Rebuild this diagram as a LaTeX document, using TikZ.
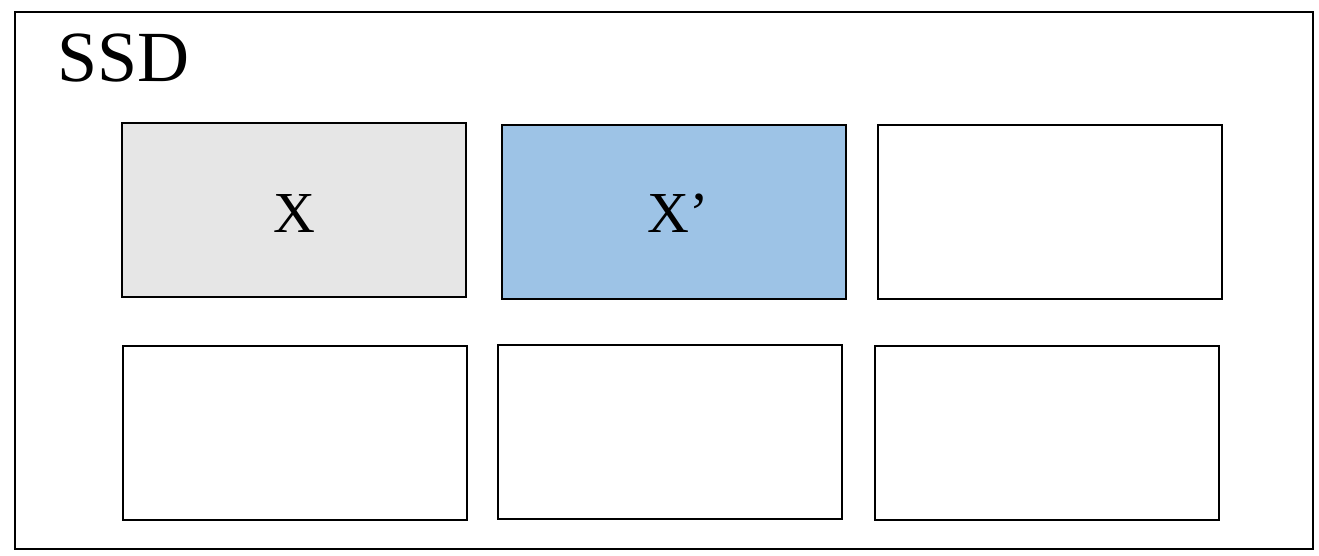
\documentclass[tikz,border=0pt]{standalone}
\usepackage{fontspec}
\setmainfont{Liberation Serif}
\definecolor{cellgray}{HTML}{E6E6E6}
\definecolor{cellblue}{HTML}{9DC3E6}
\begin{document}
\begin{tikzpicture}[x=1pt,y=-1pt,
  cell/.style={draw=black,line width=2pt,minimum width=344pt,minimum height=174pt,inner sep=0pt},
  outer/.style={draw=black,line width=2pt,minimum width=1298pt,minimum height=537pt,inner sep=0pt},
  lbl/.style={font=\fontsize{58}{60}\selectfont,inner sep=0pt}]
\useasboundingbox (0,0) rectangle (1319,555);
\node[outer] (ssd) at (664,280.5) {};
\node[anchor=base west,inner sep=0pt,font=\fontsize{72}{74}\selectfont] (ssdlbl) at (57,81) {SSD};
\node[cell,fill=cellgray] (c1) at (294,210) {};
\node[cell,fill=cellblue] (c2) at (674,212) {};
\node[cell,fill=white] (c3) at (1050,212) {};
\node[cell,fill=white] (c4) at (295,432.5) {};
\node[cell,fill=white] (c5) at (670,432) {};
\node[cell,fill=white] (c6) at (1047,432.5) {};
\node[lbl,anchor=base] (xl) at (294,232) {X};
\node[lbl,anchor=base] (xpl) at (678,232) {X’};
\end{tikzpicture}
\end{document}
